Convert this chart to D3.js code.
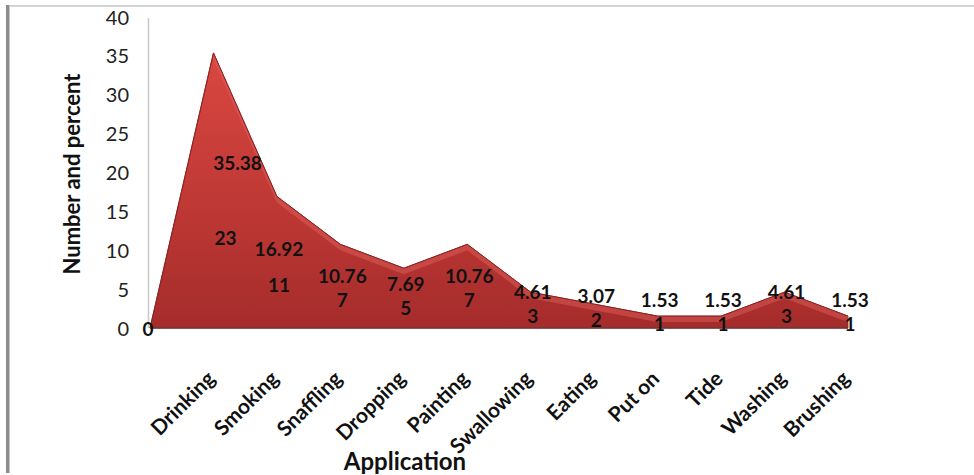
<!DOCTYPE html>
<html><head><meta charset="utf-8">
<script src="https://cdn.jsdelivr.net/npm/d3@7"></script>
<style>body{margin:0;background:#fff}svg{display:block}</style>
</head><body>
<svg id="c" width="974" height="475"></svg>
<script>
const categories = ["", "Drinking","Smoking","Snaffling","Dropping","Painting","Swallowing","Eating","Put on","Tide","Washing","Brushing"];
const percentValues = [0, 35.38, 16.92, 10.76, 7.69, 10.76, 4.61, 3.07, 1.53, 1.53, 4.61, 1.53];
const numberValues = [0, 23, 11, 7, 5, 7, 3, 2, 1, 1, 3, 1];
const yTicks = [0,5,10,15,20,25,30,35,40];

const svg = d3.select("#c");
const font = "Lato, 'Open Sans', sans-serif";

// frame
svg.append("rect").attr("x",6).attr("y",5).attr("width",3.5).attr("height",468).attr("fill","#8c8c8c");
svg.append("line").attr("x1",9).attr("x2",974).attr("y1",6).attr("y2",6).attr("stroke","#c4c4c4").attr("stroke-width",1.5);

const x = d3.scalePoint().domain(d3.range(categories.length)).range([150, 848]);
const y = d3.scaleLinear().domain([0,40]).range([328, 17]);

// y axis line
svg.append("line").attr("x1",148.5).attr("x2",148.5).attr("y1",18).attr("y2",328).attr("stroke","#c8c8c8").attr("stroke-width",1.5);

// y axis ticks
const yAxis = d3.axisLeft(y).tickValues(yTicks).tickSize(0).tickPadding(0);
const ga = svg.append("g").attr("transform","translate(129,0)").call(yAxis);
ga.select(".domain").remove();
ga.selectAll("text").attr("font-family",font).attr("font-size",20).attr("fill","#222").attr("dy","0.35em");

// gradient
const defs = svg.append("defs");
const gr = defs.append("linearGradient").attr("id","g1").attr("x1",0).attr("x2",0).attr("gradientUnits","userSpaceOnUse")
  .attr("y1",y(40)).attr("y2",y(0));
gr.append("stop").attr("offset",0).attr("stop-color","#e04a44");
gr.append("stop").attr("offset",0.55).attr("stop-color","#c23a36");
gr.append("stop").attr("offset",1).attr("stop-color","#a52c2b");

const idx = d3.range(categories.length);
const area = d3.area().x(i=>x(i)).y0(y(0)).y1(i=>y(percentValues[i]));
svg.append("path").datum(idx).attr("d",area).attr("fill","url(#g1)").attr("stroke","#8e2424").attr("stroke-width",0.8).attr("stroke-linejoin","round");

// bevel highlight along top edge
const bevel = d3.area().x(i=>x(i)).y0(i=>Math.min(y(0), y(percentValues[i])+6)).y1(i=>y(percentValues[i]));
svg.append("path").datum(idx.slice(1)).attr("d",bevel).attr("fill","#e86a64").attr("opacity",0.4);
svg.append("path").datum(idx).attr("d",d3.line().x(i=>x(i)).y(i=>y(percentValues[i]))).attr("fill","none").attr("stroke","#8a2222").attr("stroke-width",1);

// base line
svg.append("line").attr("x1",150).attr("x2",848).attr("y1",y(0)).attr("y2",y(0)).attr("stroke","#6e3a3a").attr("stroke-width",1.5);

// labels
const lab = svg.append("g").attr("font-family",font).attr("font-weight","bold").attr("font-size",19).attr("fill","#111").attr("text-anchor","middle");
idx.forEach(i=>{
  if(i===0){
    lab.append("text").attr("x",x(i)-2).attr("y",y(0)).attr("dy","0.4em").text("0");
    return;
  }
  const ny = y(numberValues[i]/2);
  const py = Math.min(y(percentValues[i]*0.6), ny-24);
  lab.append("text").attr("x",x(i)+ (i===1?24:2)).attr("y",py).attr("dy","0.35em").text(percentValues[i].toFixed(2));
  lab.append("text").attr("x",x(i)+ (i===1?12:2)).attr("y",ny).attr("dy","0.35em").text(numberValues[i]);
});

// category labels
const cg = svg.append("g").attr("font-family",font).attr("font-weight","bold").attr("font-size",21).attr("fill","#111");
idx.slice(1).forEach(i=>{
  cg.append("text").attr("text-anchor","end")
    .attr("transform",`translate(${x(i)+3},${380}) rotate(-45)`).text(categories[i]);
});

// axis titles
svg.append("text").attr("x",405).attr("y",470).attr("text-anchor","middle").attr("font-family",font).attr("font-weight","bold").attr("font-size",24).attr("fill","#111").text("Application");
svg.append("text").attr("transform","translate(80,174) rotate(-90)").attr("text-anchor","middle").attr("font-family",font).attr("font-weight","bold").attr("font-size",22).attr("fill","#111").text("Number and percent");
</script>
</body></html>
